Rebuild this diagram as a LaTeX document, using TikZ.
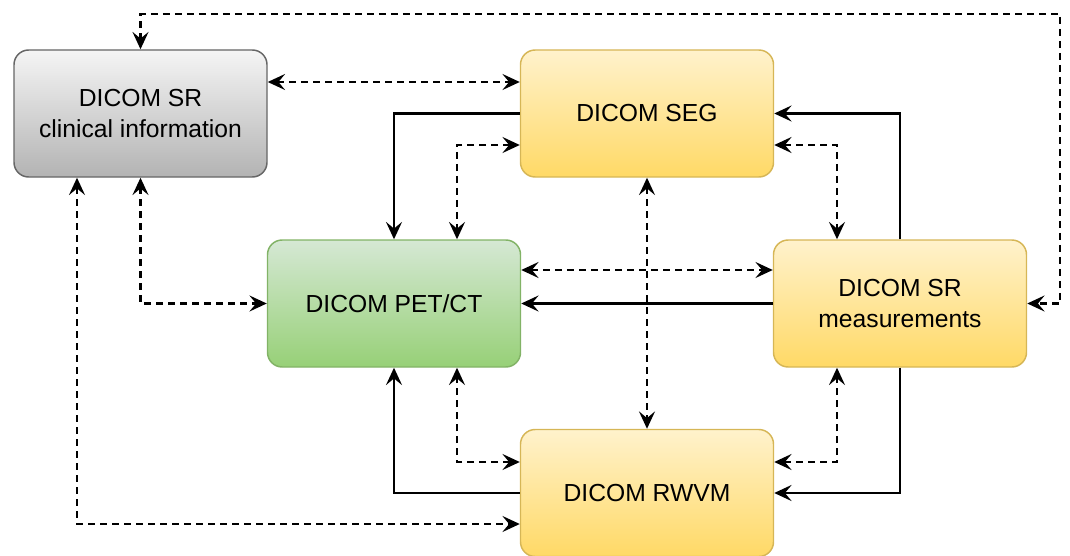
\documentclass[tikz,border=0pt]{standalone}
\usepackage{fontspec}
\setmainfont{Liberation Sans}
\usetikzlibrary{arrows.meta}

\definecolor{greyTop}{HTML}{F5F5F5}
\definecolor{greyBot}{HTML}{B3B3B3}
\definecolor{greyLine}{HTML}{666666}
\definecolor{yelTop}{HTML}{FFF2CC}
\definecolor{yelBot}{HTML}{FFD966}
\definecolor{yelLine}{HTML}{D6B656}
\definecolor{grnTop}{HTML}{D5E8D4}
\definecolor{grnBot}{HTML}{97D077}
\definecolor{grnLine}{HTML}{82B366}

\tikzset{
  box/.style={rounded corners=11pt, line width=1.1pt,
    minimum width=189.75pt, minimum height=95.25pt, inner sep=0pt,
    align=center, font=\fontsize{18.5}{23}\selectfont, text=black},
  greybox/.style={box, draw=greyLine, top color=greyTop, bottom color=greyBot},
  yelbox/.style={box, draw=yelLine, top color=yelTop, bottom color=yelBot},
  grnbox/.style={box, draw=grnLine, top color=grnTop, bottom color=grnBot},
  tip/.tip={Stealth[length=13pt, width=12pt, inset=5pt]},
  sl/.style={line width=1.7pt, -tip},
  dl/.style={line width=1.7pt, dash pattern=on 5pt off 4pt, tip-tip},
}

\begin{document}
\begin{tikzpicture}[x=0.75pt, y=-0.75pt]
\useasboundingbox (0,0) rectangle (1070,556);

% boxes
\node[greybox] (clin) at (140.5,113.5) {DICOM SR\\clinical information};
\node[yelbox]  (seg)  at (647,113.5)   {DICOM SEG};
\node[grnbox]  (pet)  at (394,303.5)   {DICOM PET/CT};
\node[yelbox]  (srm)  at (900,303.5)   {DICOM SR\\measurements};
\node[yelbox]  (rwvm) at (647,493)     {DICOM RWVM};

% clinical information links
\draw[dl] (clin.north) |- (1060,14) |- (srm.east);
\draw[dl] (clin.east |- 0,82) -- (seg.west |- 0,82);
\draw[dl] (clin.south) |- (pet.west);
\draw[dl] (clin.south -| 77,0) |- (rwvm.west |- 0,524);

% segmentation links
\draw[sl] (seg.west) -| (pet.north);
\draw[dl] (seg.west |- 0,145) -| (pet.north -| 457,0);
\draw[dl] (seg.south) -- (rwvm.north);
\draw[sl] (srm.north) |- (seg.east);
\draw[dl] (seg.east |- 0,145) -| (srm.north -| 837,0);

% measurements and PET/CT
\draw[dl] (pet.east |- 0,270) -- (srm.west |- 0,270);
\draw[sl] (srm.west) -- (pet.east);

% RWVM links
\draw[sl] (rwvm.west) -| (pet.south);
\draw[dl] (rwvm.west |- 0,462) -| (pet.south -| 457,0);
\draw[dl] (rwvm.east |- 0,462) -| (srm.south -| 837,0);
\draw[sl] (srm.south) |- (rwvm.east);
\end{tikzpicture}
\end{document}
